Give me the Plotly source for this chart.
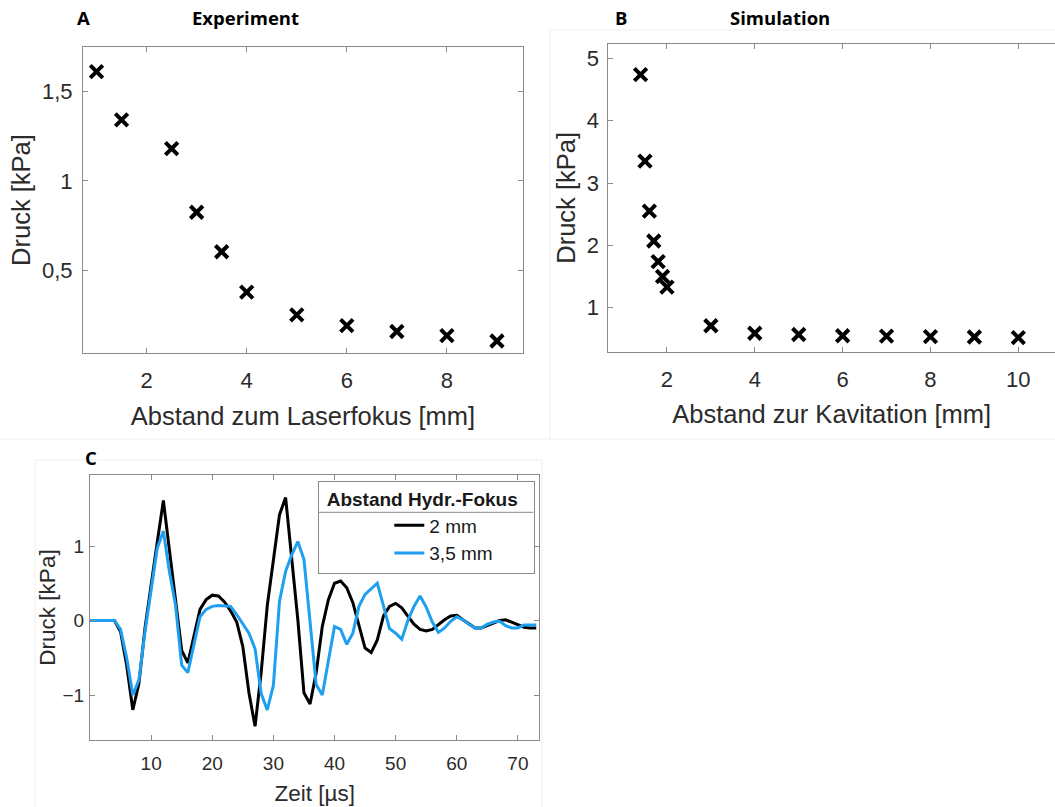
import plotly.graph_objects as go

W, H = 1055, 807

# ---------------- data ----------------
# Panel A: Experiment
a_dist = [1, 1.5, 2.5, 3, 3.5, 4, 5, 6, 7, 8, 9]
a_press = [1.61, 1.34, 1.18, 0.825, 0.605, 0.38, 0.253, 0.193, 0.16, 0.137, 0.107]

# Panel B: Simulation
b_dist = [1.4, 1.5, 1.6, 1.7, 1.8, 1.9, 2.0, 3, 4, 5, 6, 7, 8, 9, 10]
b_press = [4.74, 3.35, 2.55, 2.07, 1.74, 1.5, 1.33, 0.71, 0.59, 0.57, 0.55, 0.545, 0.535, 0.53, 0.52]

# Panel C: pressure over time
c_time = list(range(0, 74))
c_2mm = [0, 0, 0, 0, 0, -0.15, -0.6, -1.2, -0.85, -0.1,
         0.5, 1.05, 1.61, 0.95, 0.28, -0.4, -0.57, -0.2, 0.15, 0.28,
         0.34, 0.33, 0.25, 0.13, -0.02, -0.35, -0.97, -1.42, -0.7, 0.2,
         0.8, 1.42, 1.65, 0.82, 0.01, -0.97, -1.12, -0.7, -0.08, 0.28,
         0.5, 0.53, 0.44, 0.24, -0.08, -0.37, -0.43, -0.26, 0.06, 0.19,
         0.23, 0.17, 0.06, -0.05, -0.12, -0.14, -0.12, -0.05, 0.01, 0.06,
         0.07, 0.01, -0.05, -0.1, -0.1, -0.07, -0.03, 0.0, 0.01, -0.02,
         -0.05, -0.09, -0.1, -0.1]
c_35mm = [0, 0, 0, 0, 0, -0.12, -0.5, -1.0, -0.8, -0.15,
          0.42, 0.97, 1.2, 0.65, 0.2, -0.6, -0.7, -0.3, 0.05, 0.15,
          0.19, 0.2, 0.2, 0.19, 0.08, -0.05, -0.17, -0.38, -0.98, -1.2,
          -0.87, 0.26, 0.66, 0.88, 1.06, 0.82, 0.0, -0.86, -1.0, -0.52,
          -0.08, -0.12, -0.32, -0.17, 0.19, 0.35, 0.43, 0.5, 0.2, -0.11,
          -0.17, -0.25, 0.0, 0.19, 0.33, 0.18, -0.02, -0.16, -0.1, -0.01,
          0.05, 0.01, -0.05, -0.1, -0.1, -0.05, -0.02, -0.01, -0.07, -0.1,
          -0.1, -0.06, -0.06, -0.06]

a_xticks = [2, 4, 6, 8]
a_yticks = [0.5, 1, 1.5]
b_xticks = [2, 4, 6, 8, 10]
b_yticks = [1, 2, 3, 4, 5]
c_xticks = [10, 20, 30, 40, 50, 60, 70]
c_yticks = [-1, 0, 1]

# ---------------- helpers ----------------
def px(x):
    return x / W

def py(y):
    return 1 - y / H

FONT = "Liberation Sans, Arial, sans-serif"
BOLD = "Open Sans, Arial, sans-serif"
TXT = "#2b2b2b"
LINE = "#8a8a8a"

marker = dict(symbol="x-thin", size=12.5, line=dict(width=4, color="black"))

fig = go.Figure()
fig.add_trace(go.Scatter(x=a_dist, y=a_press, mode="markers", marker=marker,
                         xaxis="x", yaxis="y", showlegend=False, name="Experiment"))
fig.add_trace(go.Scatter(x=b_dist, y=b_press, mode="markers", marker=marker,
                         xaxis="x2", yaxis="y2", showlegend=False, name="Simulation"))
fig.add_trace(go.Scatter(x=c_time, y=c_2mm, mode="lines", name="2 mm",
                         line=dict(color="black", width=3), xaxis="x3", yaxis="y3"))
fig.add_trace(go.Scatter(x=c_time, y=c_35mm, mode="lines", name="3,5 mm",
                         line=dict(color="#1f9ff0", width=3), xaxis="x3", yaxis="y3"))


def axis(domain, rng, tickvals, anchor, size, title, standoff, tls, mirror="ticks"):
    return dict(domain=domain, range=rng, tickvals=tickvals, anchor=anchor,
                showline=True, linecolor=LINE, linewidth=1, mirror=mirror,
                ticks="inside", ticklen=5, tickcolor=LINE, tickwidth=1,
                showgrid=False, zeroline=False,
                tickfont=dict(family=FONT, size=size, color=TXT),
                ticklabelstandoff=tls,
                title=dict(text=title, standoff=standoff,
                           font=dict(family=FONT, size=size + 3.5, color=TXT)))

layout = dict(
    width=W, height=H, margin=dict(l=0, r=0, t=0, b=0),
    paper_bgcolor="white", plot_bgcolor="white",
    separators=", ",
    xaxis=axis([px(83), px(523)], [0.73, 9.52], a_xticks, "y", 22,
               "Abstand zum Laserfokus [mm]", 14, 8),
    yaxis=axis([py(353), py(47)], [0.04, 1.747], a_yticks, "x", 22,
               "Druck [kPa]", 4, 5),
    xaxis2=axis([px(608.3), 1.0], [0.665, 10.835], b_xticks, "y2", 22,
                "Abstand zur Kavitation [mm]", 14, 8),
    yaxis2=axis([py(351.7), py(44)], [0.294, 5.23], b_yticks, "x2", 22,
                "Druck [kPa]", 3, 4, mirror=False),
    yaxis4=dict(overlaying="y2", anchor="x2", side="right", range=[0.294, 5.23],
                tickvals=b_yticks, ticks="inside", ticklen=5, tickcolor=LINE,
                showticklabels=False, showline=False, showgrid=False, zeroline=False),
    xaxis3=axis([px(90), px(539.3)], [0, 73.5], c_xticks, "y3", 19,
                "Zeit [µs]", 12, 6),
    yaxis3=axis([py(740), py(475)], [-1.604, 1.953], c_yticks, "x3", 19,
                "Druck [kPa]", 0, 1),
    legend=dict(x=px(318.3), y=py(480.7), xanchor="left", yanchor="top",
                bgcolor="rgba(0,0,0,0)", bordercolor=LINE, borderwidth=1,
                font=dict(family=FONT, size=19, color="#1a1a1a"),
                title=dict(text="<b>\u00a0Abstand Hydr.-Fokus\u00a0\u00a0\u2009</b>", side="top center",
                           font=dict(family=FONT, size=19, color="#1a1a1a")),
                indentation=70, tracegroupgap=0),
)
fig.update_layout(**layout)

# panel labels and titles
ann = [
    ("A", 83, 18), ("Experiment", 245, 18),
    ("B", 621, 18), ("Simulation", 780, 18),
    ("C", 91, 457),
]
for txt, x, y in ann:
    fig.add_annotation(text="<b>%s</b>" % txt, x=px(x), y=py(y), xref="paper", yref="paper",
                       showarrow=False, xanchor="center", yanchor="middle",
                       font=dict(family=BOLD, size=18.5, color="black"))

# legend header separator
fig.add_shape(type="line", xref="paper", yref="paper",
              x0=px(318.3), x1=px(533.3), y0=py(512.3), y1=py(512.3),
              line=dict(color=LINE, width=1))

# faint figure frames of the composite
faint = dict(color="#efefef", width=1)
for (x0, y0, x1, y1) in [(0, 439, 1055, 439), (550, 30, 1055, 30), (550, 30, 550, 439),
                         (35, 460, 542, 460), (35, 460, 35, 807), (542, 460, 542, 807)]:
    fig.add_shape(type="line", xref="paper", yref="paper", layer="below",
                  x0=px(x0), x1=px(x1), y0=py(y0), y1=py(y1), line=faint)

fig.write_html("out.html")
